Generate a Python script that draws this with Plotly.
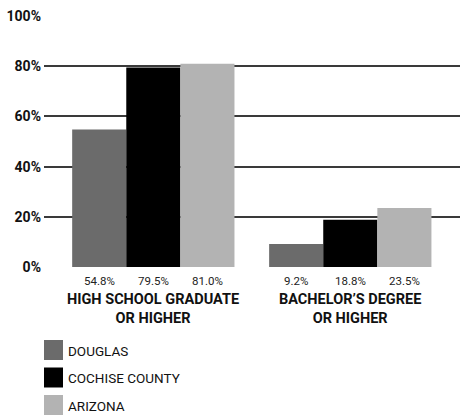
import plotly.graph_objects as go

# Educational attainment, share of population 25+
categories = ["HIGH SCHOOL GRADUATE<br>OR HIGHER", "BACHELOR\u2019S DEGREE<br>OR HIGHER"]
series_names = ["DOUGLAS", "COCHISE COUNTY", "ARIZONA"]
douglas = [54.8, 9.2]
cochise = [79.5, 18.8]
arizona = [81.0, 23.5]
y_ticks = [0, 20, 40, 60, 80, 100]
y_tick_labels = ["0%", "20%", "40%", "60%", "80%", "100%"]

colors = ["#6b6b6b", "#000000", "#b3b3b3"]
series = [douglas, cochise, arizona]

W, H = 460, 415
ML, MR, MT, MB = 44, 0, 16, 148
PW, PH = W - ML - MR, H - MT - MB

BODY = "Roboto, Liberation Sans, Arial, sans-serif"

x_idx = list(range(len(categories)))
BARGAP = 0.176
n = len(series)
bar_w = (1 - BARGAP) / n

fig = go.Figure()
for k, (name, vals, col) in enumerate(zip(series_names, series, colors)):
    fig.add_trace(go.Bar(
        x=x_idx, y=vals, name=name, marker=dict(color=col, line=dict(width=0)),
        showlegend=False,
    ))

annotations = []
# value labels under each bar
for k, vals in enumerate(series):
    off = (k - (n - 1) / 2) * bar_w
    for i, v in enumerate(vals):
        annotations.append(dict(
            x=i + off, y=0, xref="x", yref="y", text=f"{v:.1f}%",
            showarrow=False, yanchor="top", yshift=-5,
            font=dict(family=BODY, size=11.5, color="#222222"),
        ))
# category labels
for i, c in enumerate(categories):
    annotations.append(dict(
        x=i, y=0, xref="x", yref="y", text=f"<b>{c}</b>",
        showarrow=False, yanchor="top", yshift=-22,
        font=dict(family=BODY, size=14.5, color="#111111"),
    ))

# legend drawn as swatches + labels below the chart
def px_x(p):
    return (p - ML) / PW

def px_y(p):
    return (H - MB - p) / PH

shapes = []
leg_top = 340
leg_step = 27.5
for k, (name, col) in enumerate(zip(series_names, colors)):
    t = leg_top + k * leg_step
    shapes.append(dict(
        type="rect", xref="paper", yref="paper",
        x0=px_x(44), x1=px_x(63), y0=px_y(t + 20), y1=px_y(t),
        fillcolor=col, line=dict(width=0),
    ))
    annotations.append(dict(
        x=px_x(66), y=px_y(t + 10.5), xref="paper", yref="paper",
        text=name, showarrow=False, xanchor="left", yanchor="middle",
        font=dict(family=BODY, size=13.5, color="#111111"),
    ))

fig.update_layout(
    width=W, height=H,
    margin=dict(l=ML, r=MR, t=MT, b=MB, pad=0),
    paper_bgcolor="white", plot_bgcolor="white",
    barmode="group", bargap=BARGAP, bargroupgap=0,
    xaxis=dict(range=[-0.555, 1.557], showticklabels=False, showgrid=False,
               zeroline=False, showline=False, ticks=""),
    yaxis=dict(range=[0, 100], tickvals=y_ticks,
               ticktext=[f"<b>{t}</b>" for t in y_tick_labels],
               tickfont=dict(family=BODY, size=14, color="#111111"),
               showgrid=True, gridcolor="#3a3a3a", gridwidth=1.6,
               zeroline=False, showline=False, ticks="", ticklabelstandoff=2),
    annotations=annotations, shapes=shapes,
    showlegend=False,
)

fig.write_html("out.html")
